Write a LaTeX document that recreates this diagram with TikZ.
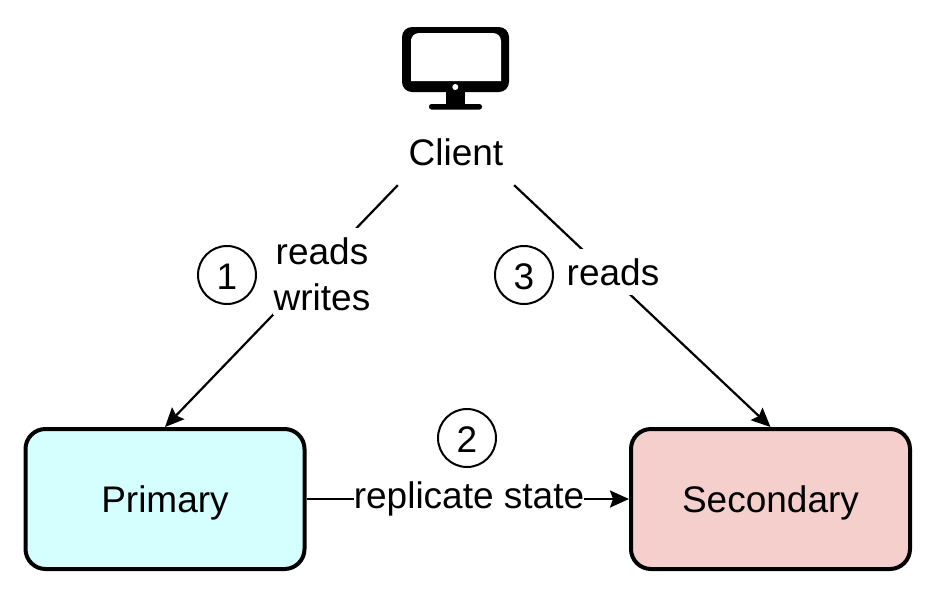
\documentclass[tikz,border=0pt]{standalone}
\usepackage{fontspec}
\setmainfont{Liberation Sans}
\usetikzlibrary{arrows.meta}
\tikzset{
  txt/.style={font=\fontsize{37}{47}\selectfont,text=black,inner sep=0pt,align=center},
  below centre/.style={text height=2*#1,text depth=0pt},
  server/.style={txt,draw=black,line width=4pt,rounded corners=20pt,minimum width=279pt,minimum height=140pt,below centre=13.7pt},
  conn/.style={draw=black,line width=2.2pt,-{Stealth[length=19pt,width=17pt,inset=3pt]}},
  lab/.style={txt,fill=white},
  numc/.style={txt,circle,draw=black,line width=2pt,fill=white,minimum size=58pt,below centre=14.5pt}
}
\begin{document}
\begin{tikzpicture}[x=1pt,y=-1pt]
\useasboundingbox (0,0) rectangle (929,595);
\fill[white] (0,0) rectangle (929,595);
% monitor icon
\fill[black,rounded corners=10pt] (402,27) rectangle (509,92);
\fill[white] (411,81) -- (411,39) [rounded corners=8pt] -- (411,33) -- (501,33) [rounded corners=0pt] -- (501,81) -- cycle;
\fill[white] (455.3,87) circle (3pt);
\fill[black] (446,91) rectangle (465,105);
\fill[black,rounded corners=2.5pt] (429,104) rectangle (482,109.5);
% nodes
\node[txt,minimum width=116pt,minimum height=66pt] (client) at (456,152) {Client};
\node[server,fill={rgb,255:red,213;green,255;blue,255}] (primary) at (165,499) {Primary};
\node[server,fill={rgb,255:red,245;green,207;blue,204}] (secondary) at (770.5,499) {Secondary};
% connectors
\draw[conn] (client.south west) -- (primary.north);
\draw[conn] (client.south east) -- (secondary.north);
\draw[conn] (primary.east) -- (secondary.west);
% labels
\node[lab,minimum width=98pt,minimum height=87pt] (rw) at (322,271.5) {\rule{0pt}{33pt}reads\\[-1pt]writes};
\node[lab,minimum width=94pt,minimum height=46pt] (r) at (613,272) {reads};
\node[lab,minimum width=230pt,minimum height=40pt,below centre=12.6pt] (rs) at (469,496) {replicate state};
\node[numc] (n1) at (227,275) {1};
\node[numc] (n3) at (524,275) {3};
\node[numc] (n2) at (467,438) {2};
\end{tikzpicture}
\end{document}
